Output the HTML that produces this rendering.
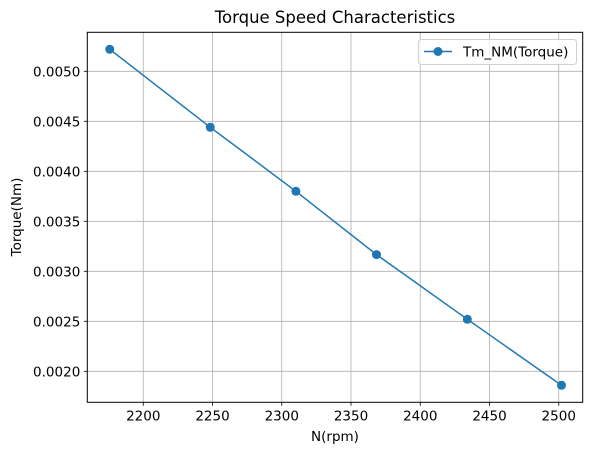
<!DOCTYPE html>
<html><head><meta charset="utf-8"><style>
html,body{margin:0;padding:0;background:#fff;}
svg{display:block;font-family:"DejaVu Sans","Liberation Sans",sans-serif;}
</style></head><body>
<svg id="chart" width="593" height="455" viewBox="0 0 593 455" xmlns="http://www.w3.org/2000/svg">
<rect width="593" height="455" fill="#fff"/>
<text x="335" y="23" font-size="16.5" text-anchor="middle" fill="#000">Torque Speed Characteristics</text>
<g id="grid"></g>
<g id="ticks"></g>
<g id="series"></g>
<rect x="87.3" y="32.3" width="495.4" height="370" fill="none" stroke="#000" stroke-width="1"/>
<text x="335" y="441" font-size="13.5" text-anchor="middle">N(rpm)</text>
<text transform="translate(21,217) rotate(-90)" font-size="13.5" text-anchor="middle">Torque(Nm)</text>
<g>
<rect x="418.5" y="39.5" width="158" height="25" rx="3" fill="#fff" fill-opacity="0.8" stroke="#d0d0d0"/>
<line x1="424" y1="51.5" x2="452" y2="51.5" stroke="#1f77b4" stroke-width="1.5"/>
<circle cx="438" cy="51.5" r="4.5" fill="#1f77b4"/>
<text x="463" y="56.5" font-size="13.5">Tm_NM(Torque)</text>
</g>
</svg>
<script>
const speeds = [2175.8, 2248.4, 2310.2, 2368.4, 2434, 2502];
const torques = [0.00522, 0.00444, 0.0038, 0.003167, 0.00252, 0.00186];
const xTicks = [2200, 2250, 2300, 2350, 2400, 2450, 2500];
const yTicks = [0.0020, 0.0025, 0.0030, 0.0035, 0.0040, 0.0045, 0.0050];
const yTickLabels = ["0.0020","0.0025","0.0030","0.0035","0.0040","0.0045","0.0050"];

const L=87.3,R=582.7,T=32.3,B=402.3;
const xMin=2159.6,xMax=2517.3,yMin=0.00169,yMax=0.00539;
function xs(v){return L+(v-xMin)/(xMax-xMin)*(R-L);}
function ys(v){return B-(v-yMin)/(yMax-yMin)*(B-T);}
const NS="http://www.w3.org/2000/svg";
function mk(tag,attrs,parent){const e=document.createElementNS(NS,tag);for(const k in attrs)e.setAttribute(k,attrs[k]);parent.appendChild(e);return e;}
const grid=document.getElementById('grid'),ticks=document.getElementById('ticks'),series=document.getElementById('series');
xTicks.forEach(v=>{
  const x=xs(v);
  const g=mk('line',{x1:x,x2:x,y1:T,y2:B,stroke:'#b0b0b0','stroke-width':0.8},grid);
  
  
  mk('line',{x1:x,x2:x,y1:B,y2:B+3.5,stroke:'#000','stroke-width':0.8},ticks);
  const t=mk('text',{x:x,y:B+18,'font-size':13.5,'text-anchor':'middle'},ticks);
  t.textContent=v;
  
  
});
yTicks.forEach((v,i)=>{
  const y=ys(v);
  const g=mk('line',{x1:L,x2:R,y1:y,y2:y,stroke:'#b0b0b0','stroke-width':0.8},grid);
  
  
  mk('line',{x1:L-3.5,x2:L,y1:y,y2:y,stroke:'#000','stroke-width':0.8},ticks);
  const t=mk('text',{x:L-7,y:y+5,'font-size':13.5,'text-anchor':'end'},ticks);
  t.textContent=yTickLabels[i];
  
  
});
const pts=speeds.map((s,i)=>xs(s)+','+ys(torques[i])).join(' ');
const line=mk('polyline',{points:pts,fill:'none',stroke:'#1f77b4','stroke-width':1.5},series);


speeds.forEach((s,i)=>{
  const c=mk('circle',{cx:xs(s),cy:ys(torques[i]),r:4.5,fill:'#1f77b4'},series);
  
  
});
</script>
</body></html>
